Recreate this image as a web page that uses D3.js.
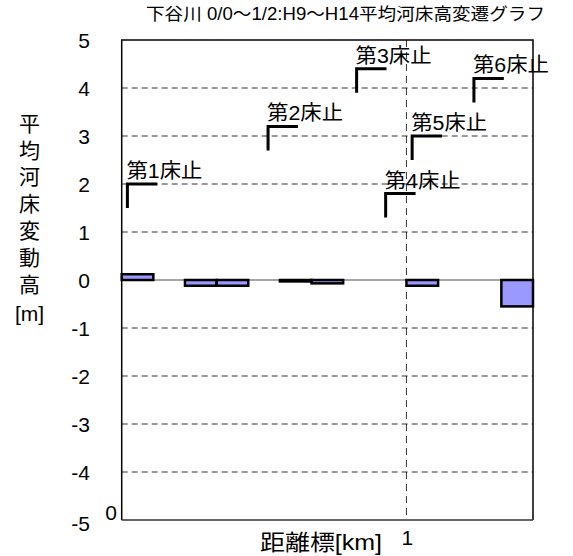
<!DOCTYPE html>
<html><head><meta charset="utf-8">
<script src="https://cdn.jsdelivr.net/npm/d3@7"></script>
<style>
body{margin:0;background:#fff;}
text{font-family:"Liberation Sans","Noto Sans CJK JP",sans-serif;fill:#000;}
</style></head>
<body><svg id="c" width="573" height="556"></svg>
<script>
const title = "下谷川 0/0～1/2:H9～H14平均河床高変遷グラフ";
const yTitleChars = ["平","均","河","床","変","動","高","[m]"];
const xTitle = "距離標[km]";
const yTicks = [5,4,3,2,1,0,-1,-2,-3,-4,-5];
const xTickLabels = ["0","1"];
// bars: start/end distance [km], mean bed change [m]
const barStart = [0, 2/9, 3/9, 5/9, 6/9, 1, 12/9];
const barEnd   = [1/9, 3/9, 4/9, 6/9, 7/9, 10/9, 13/9];
const barValue = [0.12, -0.12, -0.12, -0.03, -0.07, -0.12, -0.55];
// weirs
const weirNames = ["第1床止","第2床止","第3床止","第4床止","第5床止","第6床止"];
const weirKm    = [0.02, 0.514, 0.825, 0.927, 1.02, 1.237];
const weirTop   = [2.0, 3.2, 4.4, 1.8, 3.0, 4.2];
const weirDrop = 0.5, weirRun = 0.105;

const svg = d3.select("#c");
const L=121.7, R=533, T=40, B=520;
const x = d3.scaleLinear().domain([0, 13/9]).range([L, R]);
const y = d3.scaleLinear().domain([-5, 5]).range([B, T]);

// grid
svg.append("g").selectAll("line").data(yTicks.filter(v=>v!==0 && v!==5 && v!==-5)).join("line")
  .attr("x1",L).attr("x2",R).attr("y1",d=>y(d)).attr("y2",d=>y(d))
  .attr("stroke","#333").attr("stroke-width",1).attr("stroke-dasharray","6,4");
svg.append("line").attr("x1",x(1)).attr("x2",x(1)).attr("y1",T).attr("y2",B)
  .attr("stroke","#333").attr("stroke-width",1).attr("stroke-dasharray","7,5");
svg.append("line").attr("x1",L).attr("x2",R).attr("y1",y(0)).attr("y2",y(0))
  .attr("stroke","#888").attr("stroke-width",1.5);

// bars
const bars = barValue.map((v,i)=>({s:barStart[i],e:barEnd[i],v}));
svg.append("g").selectAll("rect").data(bars).join("rect")
  .attr("x",d=>x(d.s)).attr("width",d=>x(d.e)-x(d.s))
  .attr("y",d=>y(Math.max(0,d.v))).attr("height",d=>Math.abs(y(d.v)-y(0)))
  .attr("fill","#9999ff").attr("stroke","#000").attr("stroke-width",2.5);

// border
svg.append("path").attr("d",`M${L},${B}V${T}H${R}V${B}`).attr("fill","none").attr("stroke","#000").attr("stroke-width",1.5);
svg.append("line").attr("x1",L).attr("x2",R).attr("y1",B).attr("y2",B).attr("stroke","#333").attr("stroke-width",1.5);

// weirs
const weirs = weirNames.map((n,i)=>({n,k:weirKm[i],t:weirTop[i]}));
const wg = svg.append("g");
wg.selectAll("path").data(weirs).join("path")
  .attr("d",d=>`M${x(d.k)},${y(d.t-weirDrop)}V${y(d.t)}H${x(d.k+weirRun)}`)
  .attr("fill","none").attr("stroke","#000").attr("stroke-width",3);
wg.selectAll("text").data(weirs).join("text")
  .attr("x",d=>x(d.k)-1).attr("y",d=>y(d.t)-6)
  .attr("font-size",20).attr("textLength",76).attr("lengthAdjust","spacingAndGlyphs").text(d=>d.n);

// y tick labels
svg.append("g").selectAll("text").data(yTicks).join("text")
  .attr("x",90).attr("y",d=>y(d)+ (d===-5?3:0)).attr("dy","0.36em").attr("text-anchor","end")
  .attr("font-size",21).text(d=>d);

// x tick labels
svg.append("text").attr("x",117).attr("y",512).attr("dy","0.36em").attr("text-anchor","end").attr("font-size",21).text(xTickLabels[0]);
svg.append("text").attr("x",x(1)+1).attr("y",537).attr("dy","0.36em").attr("text-anchor","middle").attr("font-size",21).text(xTickLabels[1]);

// axis titles
svg.append("text").attr("x",260).attr("y",542).attr("dy","0.36em").attr("font-size",22)
  .attr("textLength",122).attr("lengthAdjust","spacingAndGlyphs").text(xTitle);
svg.append("g").selectAll("text").data(yTitleChars).join("text")
  .attr("x",29.5).attr("y",(d,i)=>123.3+i*26.8 + (i===7?3:0)).attr("dy","0.36em").attr("text-anchor","middle")
  .attr("font-size",21).text(d=>d);

// title
svg.append("text").attr("x",146).attr("y",14).attr("dy","0.36em").attr("font-size",17.5)
  .attr("textLength",399).attr("lengthAdjust","spacingAndGlyphs").text(title);
</script></body></html>
